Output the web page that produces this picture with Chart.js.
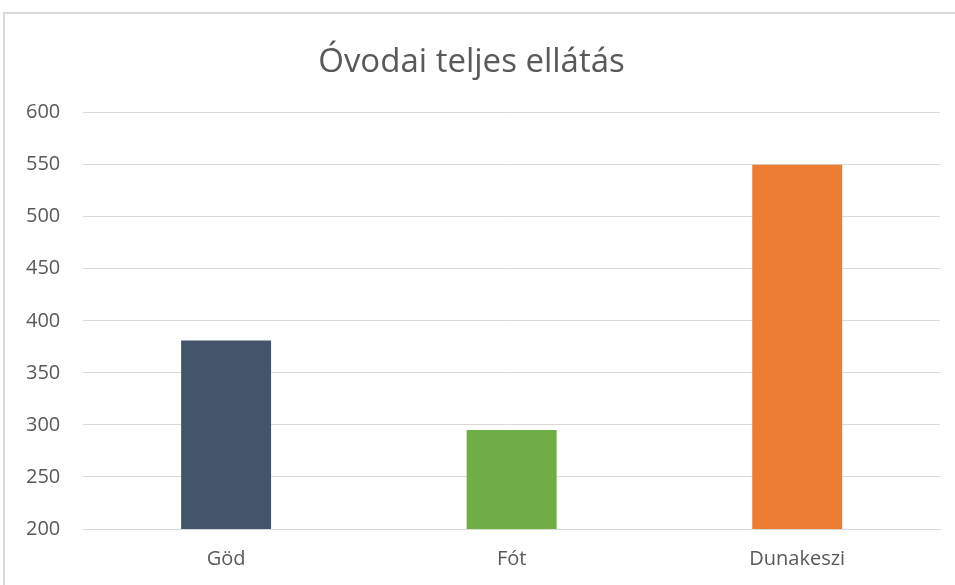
<!DOCTYPE html>
<html>
<head>
<meta charset="utf-8">
<script src="https://cdn.jsdelivr.net/npm/chart.js@4"></script>
<style>
  html, body { margin: 0; padding: 0; background: #fff; }
  #wrap { position: relative; width: 955px; height: 585px; }
  #frame { position: absolute; left: 3px; top: 12px; width: 960px; height: 590px; border: 2px solid #d9d9d9; box-sizing: border-box; pointer-events: none; }
</style>
</head>
<body>
<div id="wrap">
  <canvas id="chart" width="955" height="585"></canvas>
  <div id="frame"></div>
</div>
<script>
// adatok
const categories = ["Göd", "Fót", "Dunakeszi"];
const values = [381, 295, 550];
const barColors = ["#44546A", "#70AD47", "#ED7D31"];
const yTicks = [200, 250, 300, 350, 400, 450, 500, 550, 600];

const ctx = document.getElementById('chart').getContext('2d');
new Chart(ctx, {
  type: 'bar',
  data: {
    labels: categories,
    datasets: [{
      data: values,
      backgroundColor: barColors,
      borderWidth: 0,
      categoryPercentage: 1,
      barPercentage: 0.315
    }]
  },
  options: {
    responsive: false,
    animation: false,
    layout: { padding: { left: 3, right: 15, top: 0, bottom: -4 } },
    plugins: {
      legend: { display: false },
      tooltip: { enabled: false },
      title: {
        display: true,
        text: "Óvodai teljes ellátás",
        color: "#595959",
        font: { family: "Open Sans", size: 33, weight: "normal" },
        padding: { top: 43, bottom: 30 }
      }
    },
    scales: {
      y: {
        min: 200, max: 600,
        afterBuildTicks: (axis) => { axis.ticks = yTicks.map(v => ({ value: v })); },
        grid: { color: "#d9d9d9", lineWidth: 1, drawTicks: false },
        border: { display: false },
        ticks: { color: "#595959", font: { family: "Open Sans", size: 20 }, padding: 23 }
      },
      x: {
        grid: { display: false, drawTicks: false },
        border: { color: "#d9d9d9" },
        ticks: { color: "#595959", font: { family: "Open Sans", size: 20 }, padding: 18 }
      }
    }
  }
});
</script>
</body>
</html>
